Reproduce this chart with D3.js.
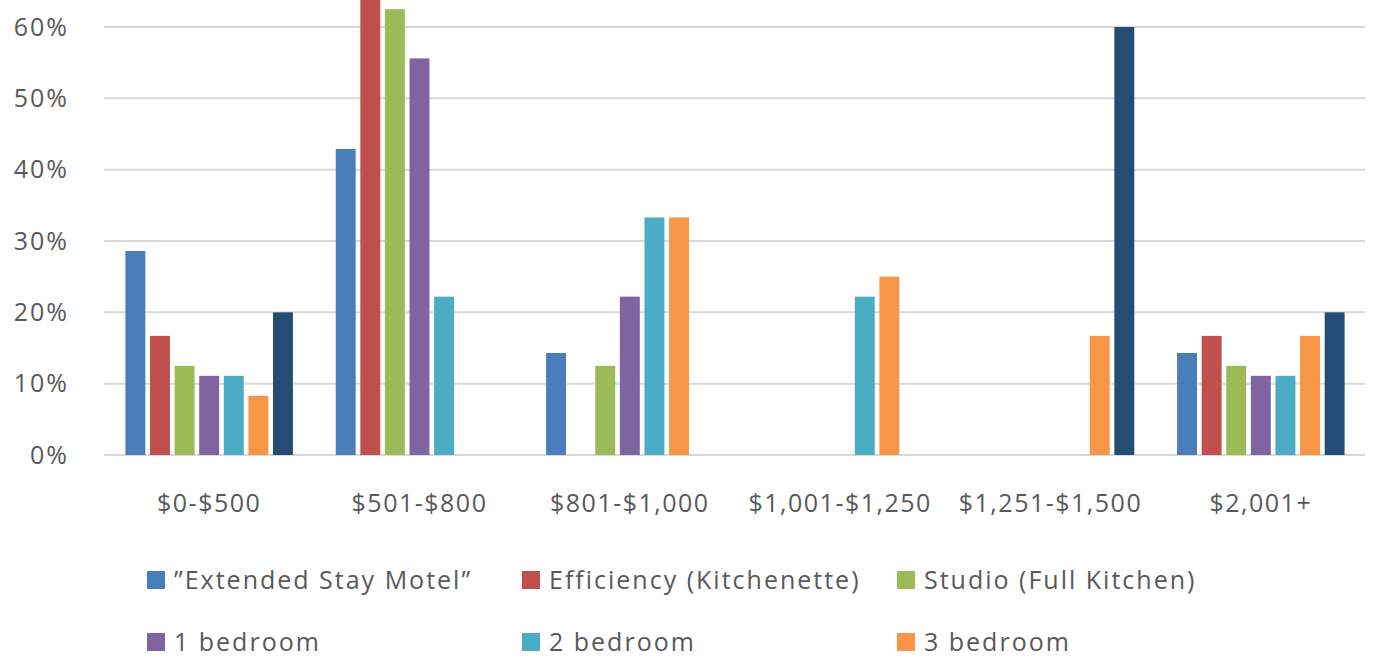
<!DOCTYPE html>
<html>
<head>
<meta charset="utf-8">
<script src="https://cdn.jsdelivr.net/npm/d3@7"></script>
<style>
  body { margin: 0; background: #fff; }
  svg text { font-family: "Open Sans", sans-serif; fill: #595959; letter-spacing: 2px; }
</style>
</head>
<body>
<svg width="1375" height="659"></svg>
<script>
// rent ranges along the x axis
var categories = ["$0-$500", "$501-$800", "$801-$1,000", "$1,001-$1,250", "$1,251-$1,500", "$2,001+"];

// unit types; the 7th (dark navy) series' legend entry is cropped out of the picture
var seriesNames = ["\u201DExtended Stay Motel\u201D", "Efficiency (Kitchenette)", "Studio (Full Kitchen)",
                   "1 bedroom", "2 bedroom", "3 bedroom", "4 bedroom"];
var legendCount = 6;
var colors = ["#4a7ebb", "#c0504d", "#9bbb59", "#8064a2", "#4bacc6", "#f79646", "#254c75"];

// share of each unit type falling in each rent range
var extendedStay = [0.286, 0.429, 0.143, 0, 0, 0.143];
var efficiency   = [0.167, 0.667, 0, 0, 0, 0.167];
var studio       = [0.125, 0.625, 0.125, 0, 0, 0.125];
var oneBed       = [0.111, 0.556, 0.222, 0, 0, 0.111];
var twoBed       = [0.111, 0.222, 0.333, 0.222, 0, 0.111];
var threeBed     = [0.083, 0, 0.333, 0.25, 0.167, 0.167];
var fourBed      = [0.2, 0, 0, 0, 0.6, 0.2];

var tickValues = [0, 0.1, 0.2, 0.3, 0.4, 0.5, 0.6];

var allSeries = [extendedStay, efficiency, studio, oneBed, twoBed, threeBed, fourBed];

var svg = d3.select("svg");

var left = 104, right = 1366, bottom = 455;

var x0 = d3.scaleBand()
  .domain(categories)
  .range([left, right]);

var x1 = d3.scaleBand()
  .domain(d3.range(seriesNames.length))
  .range([0, x0.bandwidth()])
  .paddingInner(0.19)
  .paddingOuter(0.87);

// chart goes to 70%, top of it is cropped off
var y = d3.scaleLinear()
  .domain([0, 0.7])
  .range([bottom, bottom - 0.7 * 713.3]);

// gridlines
svg.append("g")
  .selectAll("line")
  .data(tickValues)
  .enter().append("line")
  .attr("x1", left)
  .attr("x2", right - 1)
  .attr("y1", function(d) { return y(d); })
  .attr("y2", function(d) { return y(d); })
  .attr("stroke", "#d9d9d9")
  .attr("stroke-width", 2);

// y axis labels
var yAxis = d3.axisLeft(y)
  .tickValues(tickValues)
  .tickFormat(d3.format(".0%"))
  .tickSize(0)
  .tickPadding(0);

var yg = svg.append("g")
  .attr("transform", "translate(69,0)")
  .call(yAxis);
yg.select(".domain").remove();
yg.selectAll("text")
  .style("font-size", "25px")
  .attr("font-family", null);

// bars
var groups = svg.append("g")
  .selectAll("g")
  .data(categories)
  .enter().append("g")
  .attr("transform", function(d) { return "translate(" + x0(d) + ",0)"; });

groups.selectAll("rect")
  .data(function(d, ci) {
    return allSeries.map(function(s, si) { return { si: si, v: s[ci] }; });
  })
  .enter().append("rect")
  .filter(function(d) { return d.v > 0; })
  .attr("x", function(d) { return x1(d.si); })
  .attr("width", x1.bandwidth())
  .attr("y", function(d) { return y(d.v); })
  .attr("height", function(d) { return bottom - y(d.v); })
  .attr("fill", function(d) { return colors[d.si]; });

// x axis labels
var xAxis = d3.axisBottom(x0).tickSize(0).tickPadding(0);
var xg = svg.append("g")
  .attr("transform", "translate(0,512)")
  .call(xAxis);
xg.select(".domain").remove();
xg.selectAll("text")
  .style("font-size", "25px")
  .style("letter-spacing", "1.5px")
  .attr("font-family", null)
  .attr("dy", "0");

// legend, 3 columns
var legend = svg.append("g")
  .selectAll("g")
  .data(seriesNames.slice(0, legendCount))
  .enter().append("g")
  .attr("transform", function(d, i) {
    return "translate(" + (147 + (i % 3) * 375) + "," + (580 + Math.floor(i / 3) * 62) + ")";
  });

legend.append("rect")
  .attr("y", -9)
  .attr("width", 18)
  .attr("height", 18)
  .attr("fill", function(d, i) { return colors[i]; });

legend.append("text")
  .attr("x", 27)
  .attr("dy", "0.35em")
  .style("font-size", "25px")
  .text(function(d) { return d; });
</script>
</body>
</html>
